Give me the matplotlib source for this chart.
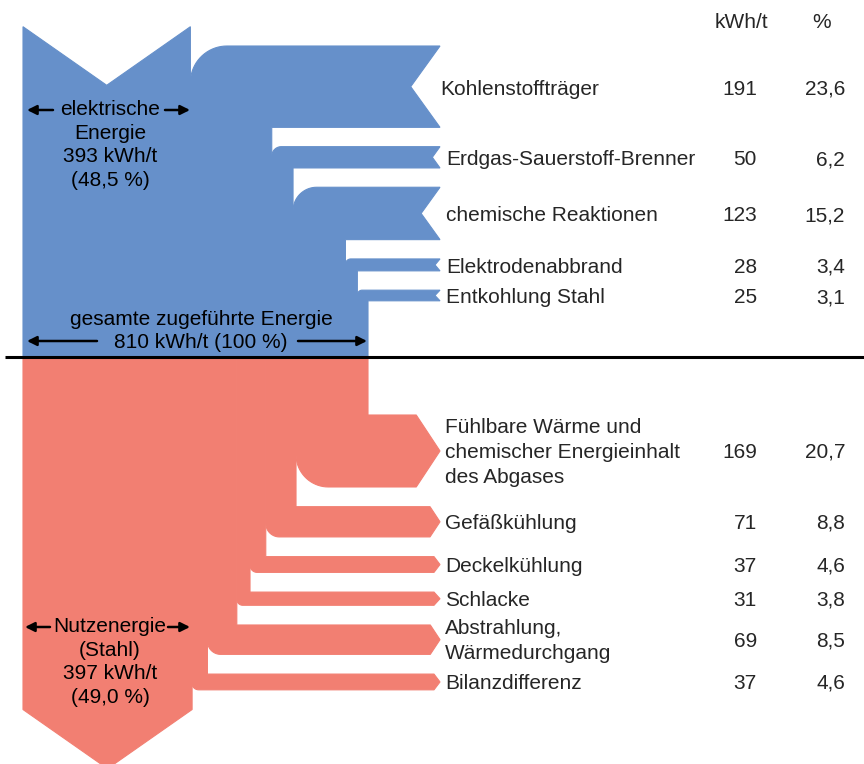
import numpy as np
import matplotlib.pyplot as plt
from matplotlib.patches import Polygon

plt.rcParams['font.family'] = ['Liberation Sans', 'DejaVu Sans']

# energy balance of the electric arc furnace (kWh per tonne steel)
total_kwh = 810
elec_kwh = 393
elec_pct = 48.5
steel_kwh = 397
steel_pct = 49.0

in_labels = ['Kohlenstoffträger', 'Erdgas-Sauerstoff-Brenner', 'chemische Reaktionen',
             'Elektrodenabbrand', 'Entkohlung Stahl']
in_kwh = [191, 50, 123, 28, 25]
in_pct = [23.6, 6.2, 15.2, 3.4, 3.1]

out_labels = ['Fühlbare Wärme und\nchemischer Energieinhalt\ndes Abgases', 'Gefäßkühlung',
              'Deckelkühlung', 'Schlacke', 'Abstrahlung,\nWärmedurchgang', 'Bilanzdifferenz']
out_kwh = [169, 71, 37, 31, 69, 37]
out_pct = [20.7, 8.8, 4.6, 3.8, 8.5, 4.6]

BLUE = '#6690CA'
RED = '#F27F72'
TXT = '#262626'
FS = 15.0

W, H = 864, 764
fig = plt.figure(figsize=(W / 100, H / 100), dpi=100)
ax = fig.add_axes([0, 0, 1, 1])
ax.set_xlim(0, W)
ax.set_ylim(H, 0)
ax.axis('off')

# layout in pixels
k = 345 / total_kwh          # px per kWh
x_left = 23
x_col = x_left + total_kwh * k
y_mid = 357
x_end = 440
gap_in, gap_out = 19.3, 19.7
y_in0, y_out0 = 46, 415


def fmt(v):
    return f'{v:.1f}'.replace('.', ',')


def arc(cx, cy, r, sy, n=20):
    t = np.linspace(0, np.pi / 2, n)
    return list(zip(cx - r * np.cos(t), cy + sy * r * np.sin(t)))


def shape(pts, color):
    ax.add_patch(Polygon(pts, closed=True, fc=color, ec=color, lw=0.8))


# electric energy: tail with notch
we = elec_kwh * k
y_top = y_in0 - gap_in
shape([(x_left, y_mid), (x_left, y_top), (x_left + we / 2, y_top + 0.7 * we / 2),
       (x_left + we, y_top), (x_left + we, y_mid)], BLUE)

# other inputs enter from the right and bend down into the column
x0 = x_left + we
y0 = y_in0
in_centers = []
for v in in_kwh:
    h = v * k
    x1 = x0 + h
    y1 = y0 + h
    r = 0.45 * h
    d = max(0.36 * h, 5)
    pts = [(x0, y_mid)]
    pts += arc(x0 + r, y0 + r, r, -1)
    pts += [(x_end, y0), (x_end - d, (y0 + y1) / 2), (x_end, y1), (x1, y1), (x1, y_mid)]
    shape(pts, BLUE)
    in_centers.append((y0 + y1) / 2)
    x0 = x1
    y0 = y1 + gap_in

# outputs leave to the right, taken from the column's right side
x1 = x_col
y0 = y_out0
out_centers = []
for v in out_kwh:
    h = v * k
    x0 = x1 - h
    y1 = y0 + h
    r = 0.45 * h
    xh = x_end - max(0.33 * h, 6)
    pts = [(x0, y_mid)]
    pts += arc(x0 + r, y1 - r, r, 1)
    pts += [(xh, y1), (x_end, (y0 + y1) / 2), (xh, y0), (x1, y0), (x1, y_mid)]
    shape(pts, RED)
    out_centers.append((y0 + y1) / 2)
    x1 = x0
    y0 = y1 + gap_out

# useful energy in steel: arrow pointing down
ws = steel_kwh * k
y_side = y0
shape([(x_left, y_mid), (x_left + ws, y_mid), (x_left + ws, y_side),
       (x_left + ws / 2, y_side + 0.7 * ws / 2), (x_left, y_side)], RED)

ax.plot([5, W], [y_mid, y_mid], color='black', lw=2.2, solid_capstyle='butt')

# table on the right
ax.text(741, 23, 'kWh/t', fontsize=FS, color=TXT, ha='center', va='center')
ax.text(822, 23, '%', fontsize=FS, color=TXT, ha='center', va='center')
for i, (lab, v, p) in enumerate(zip(in_labels, in_kwh, in_pct)):
    yc = in_centers[i] + 2.5
    ax.text(440 if i == 0 else 446, yc, lab, fontsize=FS, color=TXT, ha='left', va='center')
    ax.text(757, yc, str(v), fontsize=FS, color=TXT, ha='right', va='center')
    ax.text(845, yc, fmt(p), fontsize=FS, color=TXT, ha='right', va='center')
for i, (lab, v, p) in enumerate(zip(out_labels, out_kwh, out_pct)):
    yc = out_centers[i] + 1.5
    ax.text(445, yc, lab, fontsize=FS, color=TXT, ha='left', va='center', linespacing=1.4)
    ax.text(757, yc, str(v), fontsize=FS, color=TXT, ha='right', va='center')
    ax.text(845, yc, fmt(p), fontsize=FS, color=TXT, ha='right', va='center')


def harrow(xa, xb, y):
    ax.annotate('', xy=(xb, y), xytext=(xa, y),
                arrowprops=dict(arrowstyle='-|>', color='black', lw=1.8,
                                mutation_scale=14, shrinkA=0, shrinkB=0))


# labels inside the flows
ax.text(110, 145, f'elektrische\nEnergie\n{elec_kwh} kWh/t\n({fmt(elec_pct)} %)',
        fontsize=FS, color='black', ha='center', va='center', linespacing=1.3)
harrow(53, 27, 110)
harrow(165, 190, 110)

ax.text(201, 331, f'gesamte zugeführte Energie\n{total_kwh} kWh/t (100 %)',
        fontsize=FS, color='black', ha='center', va='center', linespacing=1.32)
harrow(97, 27, 341)
harrow(298, 367, 341)

ax.text(110, 662, f'Nutzenergie\n(Stahl)\n{steel_kwh} kWh/t\n({fmt(steel_pct)} %)',
        fontsize=FS, color='black', ha='center', va='center', linespacing=1.3)
harrow(50, 25, 627)
harrow(168, 190, 627)

fig.savefig('out.png', dpi=100)
